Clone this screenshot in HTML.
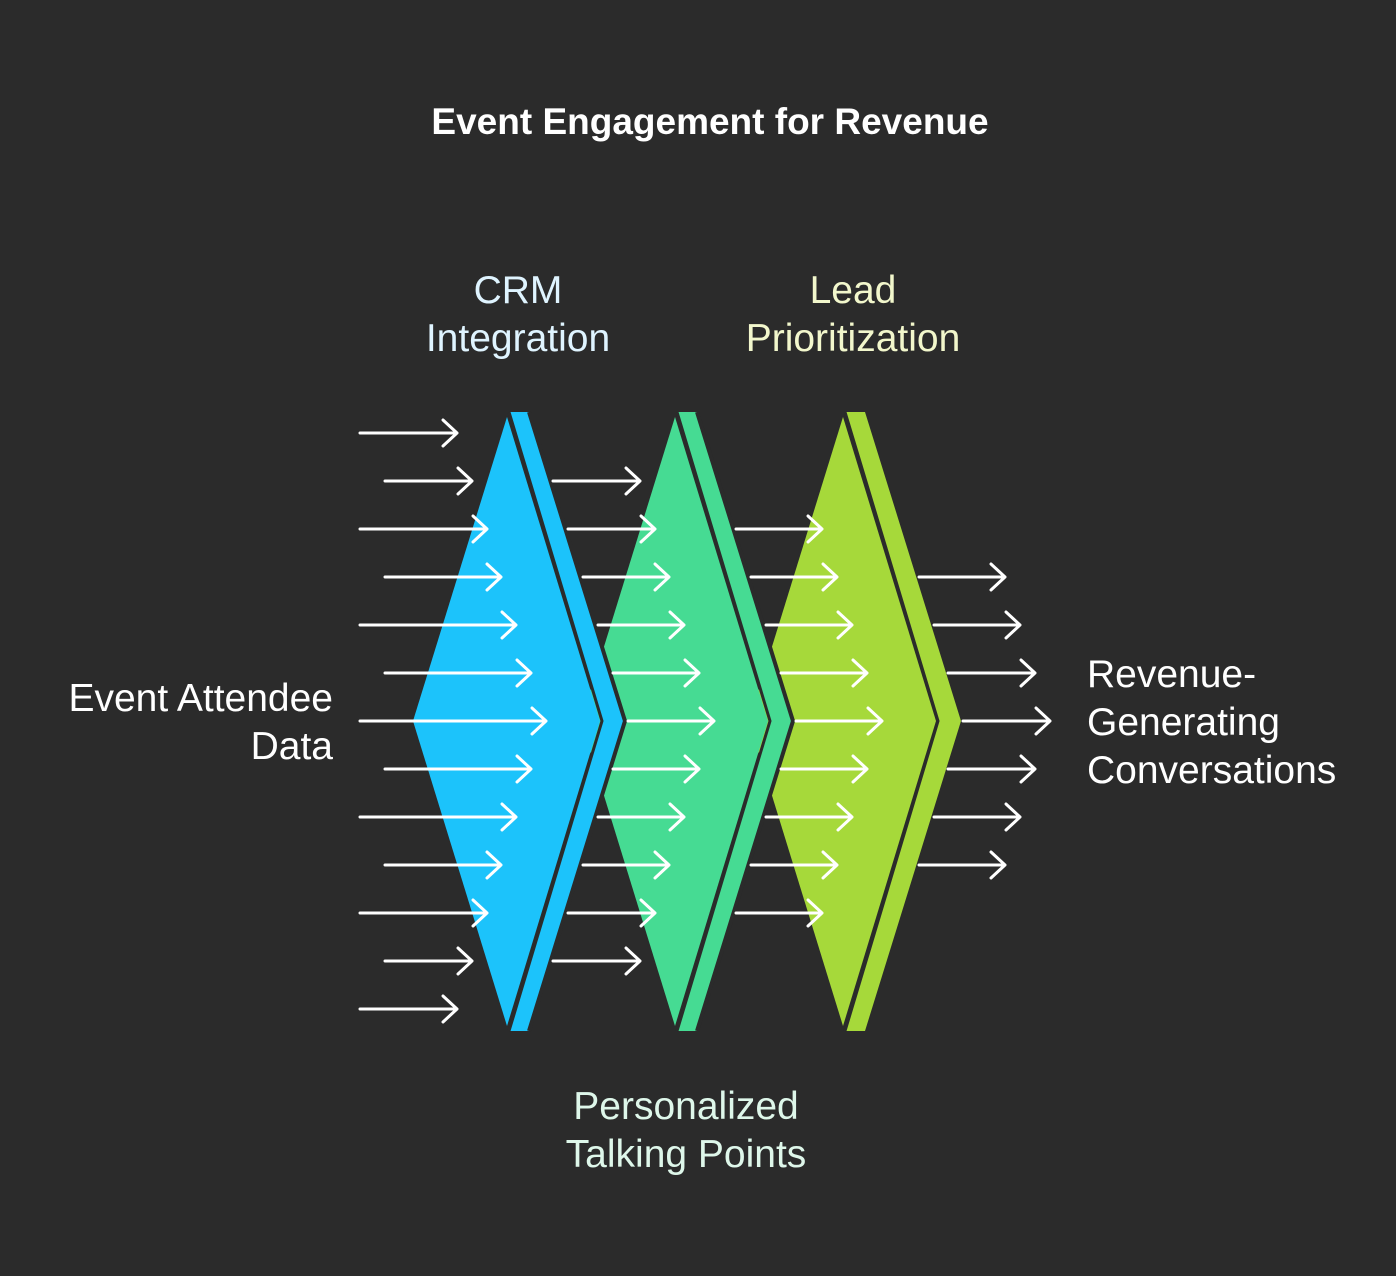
<!DOCTYPE html>
<html><head><style>
html,body{margin:0;padding:0;background:#2b2b2b;}
svg{display:block}
text{font-family:"Liberation Sans",sans-serif;}
</style></head><body>
<svg width="1396" height="1276" viewBox="0 0 1396 1276" xmlns="http://www.w3.org/2000/svg">
<rect width="1396" height="1276" fill="#2b2b2b"/>
<text x="710" y="134" text-anchor="middle" font-size="37" font-weight="bold" fill="#ffffff">Event Engagement for Revenue</text>

<defs>
<g id="chev">
  <polygon points="507,417 600,721 507,1026 413,721"/>
  <polygon points="509,412 529,412 625,721 529,1031 509,1031 602,721"/>
</g>
</defs>
<g fill="#a6d93a" transform="translate(336,0)"><use href="#chev"/></g>
<g fill="#46db93" transform="translate(168,0)"><use href="#chev"/></g>
<polyline points="697,412 793,721 697,1031" fill="none" stroke="#2b2b2b" stroke-width="4"/>
<g fill="#1cc3fb"><use href="#chev"/></g>
<polyline points="529,412 625,721 529,1031" fill="none" stroke="#2b2b2b" stroke-width="4"/>
<g fill="none" stroke="#2b2b2b" stroke-width="3">
  <polyline points="509,412 602,721 509,1031"/>
  <polyline points="677,412 770,721 677,1031"/>
  <polyline points="845,412 938,721 845,1031"/>
</g>

<g fill="none" stroke="#ffffff" stroke-width="3" stroke-linecap="round" stroke-linejoin="round">
<path d="M360 433H457M443 420L457 433L443 446"/>
<path d="M385 481H472M458 468L472 481L458 494"/>
<path d="M360 529H487M473 516L487 529L473 542"/>
<path d="M385 577H501M487 564L501 577L487 590"/>
<path d="M360 625H516M502 612L516 625L502 638"/>
<path d="M385 673H531M517 660L531 673L517 686"/>
<path d="M360 721H546M532 708L546 721L532 734"/>
<path d="M385 769H531M517 756L531 769L517 782"/>
<path d="M360 817H516M502 804L516 817L502 830"/>
<path d="M385 865H501M487 852L501 865L487 878"/>
<path d="M360 913H487M473 900L487 913L473 926"/>
<path d="M385 961H472M458 948L472 961L458 974"/>
<path d="M360 1009H457M443 996L457 1009L443 1022"/>
<path d="M553 481H640M626 468L640 481L626 494"/>
<path d="M568 529H655M641 516L655 529L641 542"/>
<path d="M583 577H669M655 564L669 577L655 590"/>
<path d="M598 625H684M670 612L684 625L670 638"/>
<path d="M613 673H699M685 660L699 673L685 686"/>
<path d="M628 721H714M700 708L714 721L700 734"/>
<path d="M613 769H699M685 756L699 769L685 782"/>
<path d="M598 817H684M670 804L684 817L670 830"/>
<path d="M583 865H669M655 852L669 865L655 878"/>
<path d="M568 913H655M641 900L655 913L641 926"/>
<path d="M553 961H640M626 948L640 961L626 974"/>
<path d="M736 529H822M808 516L822 529L808 542"/>
<path d="M751 577H837M823 564L837 577L823 590"/>
<path d="M766 625H852M838 612L852 625L838 638"/>
<path d="M781 673H867M853 660L867 673L853 686"/>
<path d="M796 721H882M868 708L882 721L868 734"/>
<path d="M781 769H867M853 756L867 769L853 782"/>
<path d="M766 817H852M838 804L852 817L838 830"/>
<path d="M751 865H837M823 852L837 865L823 878"/>
<path d="M736 913H822M808 900L822 913L808 926"/>
<path d="M919 577H1005M991 564L1005 577L991 590"/>
<path d="M934 625H1020M1006 612L1020 625L1006 638"/>
<path d="M948 673H1035M1021 660L1035 673L1021 686"/>
<path d="M963 721H1050M1036 708L1050 721L1036 734"/>
<path d="M948 769H1035M1021 756L1035 769L1021 782"/>
<path d="M934 817H1020M1006 804L1020 817L1006 830"/>
<path d="M919 865H1005M991 852L1005 865L991 878"/>
</g>

<g font-size="39">
<text x="518" y="303" text-anchor="middle" fill="#dff4ff">CRM</text>
<text x="518" y="351" text-anchor="middle" fill="#dff4ff">Integration</text>
<text x="853" y="303" text-anchor="middle" fill="#f2f7cc">Lead</text>
<text x="853" y="351" text-anchor="middle" fill="#f2f7cc">Prioritization</text>
<text x="686" y="1119" text-anchor="middle" fill="#def7ea">Personalized</text>
<text x="686" y="1167" text-anchor="middle" fill="#def7ea">Talking Points</text>
<text x="333" y="711" text-anchor="end" fill="#ffffff">Event Attendee</text>
<text x="333" y="759" text-anchor="end" fill="#ffffff">Data</text>
<text x="1087" y="687" fill="#ffffff">Revenue-</text>
<text x="1087" y="735" fill="#ffffff">Generating</text>
<text x="1087" y="783" fill="#ffffff">Conversations</text>
</g>
</svg>
</body></html>
